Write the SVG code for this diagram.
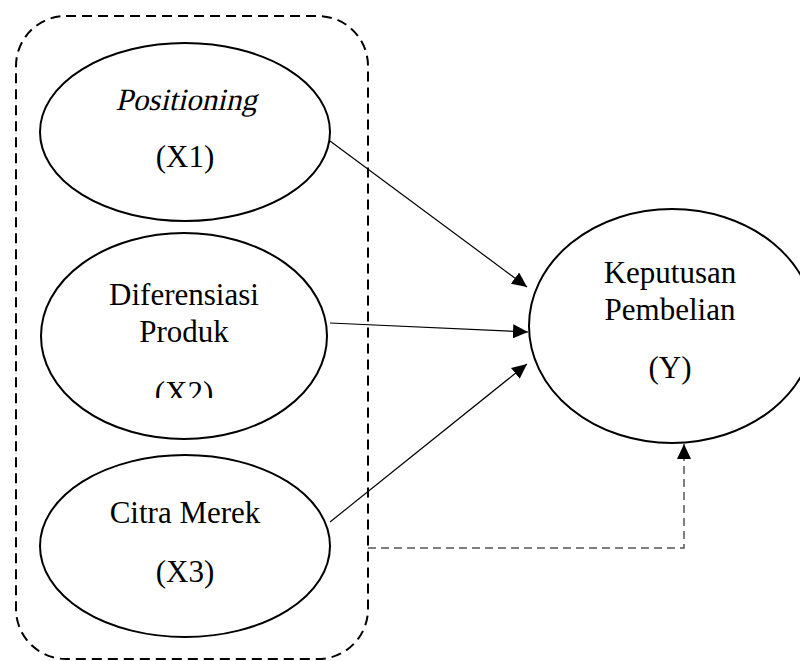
<svg xmlns="http://www.w3.org/2000/svg" width="800" height="661" viewBox="0 0 800 661">
<style>
.node{fill:#fff;stroke:#000;stroke-width:2}
.t{font-family:"Liberation Serif","Times New Roman",serif;font-size:31px;fill:#000;text-anchor:middle}
.edge{stroke:#000;stroke-width:1.2;fill:none}
</style>
<defs>
<marker id="ah" markerWidth="16" markerHeight="14" refX="15" refY="7" orient="auto" markerUnits="userSpaceOnUse">
<path d="M0,0 L15,7 L0,14 Z" fill="#000"/>
</marker>
<clipPath id="clipX2"><rect x="0" y="0" width="400" height="398"/></clipPath>
</defs>
<rect id="group" x="16" y="16" width="352" height="643" rx="50" ry="50" fill="none" stroke="#000" stroke-width="2" stroke-dasharray="10 6"/>
<g id="x1">
<ellipse class="node" cx="185" cy="132" rx="145" ry="89"/>
<text class="t" x="0" y="0" transform="translate(186,110) skewX(-13)">Positioning</text>
<text class="t" x="185" y="167">(X1)</text>
</g>
<g id="x2">
<ellipse class="node" cx="184" cy="336" rx="143" ry="103"/>
<text class="t" x="184" y="305">Diferensiasi</text>
<text class="t" x="184" y="342">Produk</text>
<text class="t" x="184" y="403" clip-path="url(#clipX2)">(X2)</text>
</g>
<g id="x3">
<ellipse class="node" cx="185" cy="546" rx="145" ry="91"/>
<text class="t" x="185" y="523">Citra Merek</text>
<text class="t" x="185" y="582">(X3)</text>
</g>
<g id="y">
<ellipse class="node" cx="672" cy="326" rx="143" ry="117"/>
<text class="t" x="670" y="283">Keputusan</text>
<text class="t" x="670" y="320">Pembelian</text>
<text class="t" x="670" y="378">(Y)</text>
</g>
<g id="connectors">
<line class="edge" x1="330" y1="141" x2="527" y2="287" marker-end="url(#ah)"/>
<line class="edge" x1="330" y1="323" x2="528" y2="332" marker-end="url(#ah)"/>
<line class="edge" x1="330" y1="522" x2="527" y2="364" marker-end="url(#ah)"/>
<path d="M368,548 H684 V444" fill="none" stroke="#555" stroke-width="1.5" stroke-dasharray="8 5" marker-end="url(#ah)"/>
</g>
</svg>
